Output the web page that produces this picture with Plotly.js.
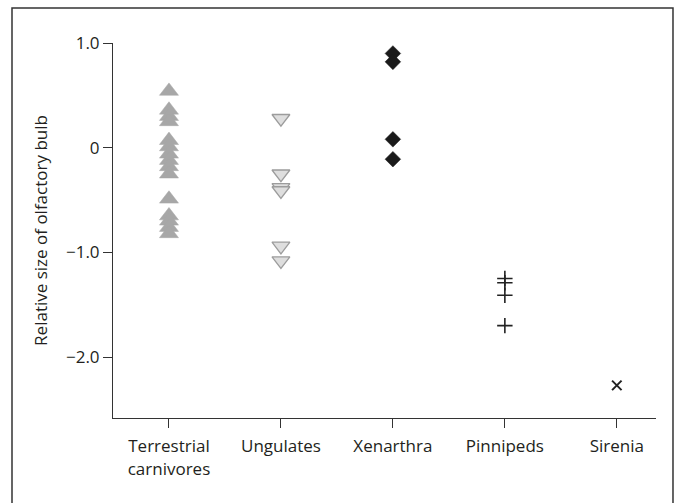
<!DOCTYPE html>
<html>
<head>
<meta charset="utf-8">
<script src="https://cdn.plot.ly/plotly-3.0.1.min.js"></script>
<style>html,body{margin:0;padding:0;background:#fff;}#chart{width:675px;height:503px;}</style>
</head>
<body>
<div id="chart"></div>
<script>
const categories = ["Terrestrial<br>carnivores", "Ungulates", "Xenarthra", "Pinnipeds", "Sirenia"];
const terrestrial = [0.54, 0.36, 0.30, 0.25, 0.07, 0.01, -0.06, -0.12, -0.18, -0.25, -0.49, -0.65, -0.70, -0.76, -0.82];
const ungulates = [0.28, -0.25, -0.38, -0.41, -0.94, -1.08];
const xenarthra = [0.90, 0.82, 0.08, -0.11];
const pinnipeds = [-1.25, -1.29, -1.41, -1.70];
const sirenia = [-2.27];
const yTickVals = [-2, -1, 0, 1];
const yTickText = ["\u22122.0", "\u22121.0", "0", "1.0"];

const font = "'Open Sans', 'Noto Sans', sans-serif";
function xs(arr, i) { return arr.map(() => i); }

const traces = [
  {x: xs(terrestrial, 0), y: terrestrial, type: 'scatter', mode: 'markers', cliponaxis: false,
   marker: {symbol: 'triangle-up', size: 16.5, color: '#a7a7a7', line: {color: '#a7a7a7', width: 0.5}}},
  {x: xs(ungulates, 1), y: ungulates, type: 'scatter', mode: 'markers', cliponaxis: false,
   marker: {symbol: 'triangle-down', size: 15.5, color: '#dedede', line: {color: '#9c9c9c', width: 1.3}}},
  {x: xs(xenarthra, 2), y: xenarthra, type: 'scatter', mode: 'markers', cliponaxis: false,
   marker: {symbol: 'diamond', size: 12, color: '#1a1a1a', line: {color: '#1a1a1a', width: 0.5}}},
  {x: xs(pinnipeds, 3), y: pinnipeds, type: 'scatter', mode: 'markers', cliponaxis: false,
   marker: {symbol: 'cross-thin', size: 11, color: '#222', line: {color: '#222', width: 1.6}}},
  {x: xs(sirenia, 4), y: sirenia, type: 'scatter', mode: 'markers', cliponaxis: false,
   marker: {symbol: 'x-thin', size: 9.5, color: '#222', line: {color: '#222', width: 2}}}
];

const layout = {
  width: 675, height: 503,
  margin: {l: 113, r: 19, t: 43, b: 85},
  paper_bgcolor: '#fff', plot_bgcolor: '#fff',
  showlegend: false,
  font: {family: font, size: 17, color: '#231f20'},
  xaxis: {
    range: [-0.5, 4.35], tickvals: [0, 1, 2, 3, 4], ticktext: categories,
    showgrid: false, zeroline: false, showline: true, linecolor: '#333', linewidth: 1,
    ticks: 'outside', ticklen: 9, tickcolor: '#333', tickwidth: 1, ticklabelstandoff: 4,
    tickfont: {family: font, size: 17, color: '#231f20'}, fixedrange: true
  },
  yaxis: {
    range: [-2.582, 1.0], tickvals: yTickVals, ticktext: yTickText,
    showgrid: false, zeroline: false, showline: true, linecolor: '#333', linewidth: 1,
    ticks: 'outside', ticklen: 9, tickcolor: '#333', tickwidth: 1,
    tickfont: {family: font, size: 17, color: '#231f20'},
    title: {text: 'Relative size of olfactory bulb', font: {family: font, size: 17, color: '#231f20'}, standoff: 14},
    fixedrange: true
  },
  shapes: [
    {type: 'rect', xref: 'paper', yref: 'paper', x0: -0.186, x1: 1.0313, y0: -0.26, y1: 1.0933,
     line: {color: '#333', width: 1.5}, fillcolor: 'rgba(0,0,0,0)', layer: 'below'}
  ]
};

Plotly.newPlot('chart', traces, layout, {displayModeBar: false, staticPlot: true});
</script>
</body>
</html>
